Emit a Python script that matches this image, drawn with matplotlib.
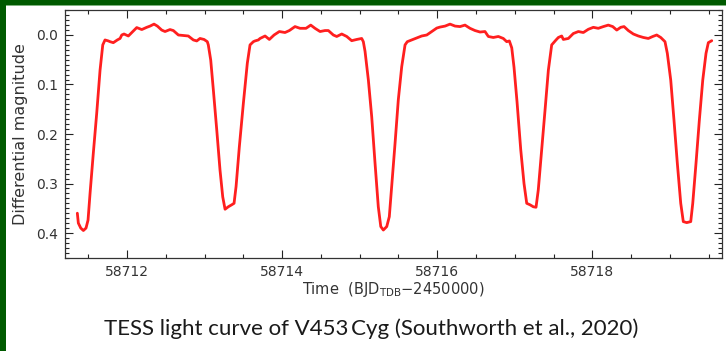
import matplotlib
matplotlib.use("Agg")
import matplotlib.pyplot as plt
from matplotlib.patches import Rectangle
from matplotlib.ticker import MultipleLocator, FixedFormatter

plt.rcParams["font.family"] = ["DejaVu Sans"]
plt.rcParams["mathtext.fontset"] = "dejavusans"

# TESS light curve of V453 Cyg: time (BJD_TDB - 2450000) and differential magnitude
bjd = [
    58711.359, 58711.372, 58711.403, 58711.437, 58711.471, 58711.497, 58711.523,
    58711.565, 58711.609, 58711.652, 58711.687, 58711.716, 58711.759, 58711.781,
    58711.823, 58711.875, 58711.910, 58711.932, 58711.961, 58712.017, 58712.074,
    58712.125, 58712.190, 58712.254, 58712.297, 58712.348, 58712.391, 58712.447,
    58712.490, 58712.554, 58712.597, 58712.662, 58712.726, 58712.790, 58712.855,
    58712.899, 58712.941, 58712.993, 58713.035, 58713.048, 58713.079, 58713.113,
    58713.157, 58713.199, 58713.234, 58713.264, 58713.306, 58713.350, 58713.380,
    58713.406, 58713.448, 58713.500, 58713.551, 58713.586, 58713.629, 58713.650,
    58713.693, 58713.715, 58713.780, 58713.835, 58713.896, 58713.964, 58714.037,
    58714.093, 58714.166, 58714.231, 58714.308, 58714.369, 58714.424, 58714.489,
    58714.553, 58714.596, 58714.660, 58714.704, 58714.769, 58714.833, 58714.897,
    58714.962, 58715.026, 58715.047, 58715.069, 58715.112, 58715.155, 58715.198,
    58715.240, 58715.272, 58715.305, 58715.349, 58715.382, 58715.413, 58715.456,
    58715.498, 58715.542, 58715.585, 58715.614, 58715.671, 58715.736, 58715.800,
    58715.865, 58715.929, 58715.994, 58716.036, 58716.101, 58716.165, 58716.230,
    58716.294, 58716.358, 58716.423, 58716.487, 58716.552, 58716.616, 58716.659,
    58716.723, 58716.788, 58716.852, 58716.896, 58716.930, 58716.961, 58716.990,
    58717.029, 58717.077, 58717.119, 58717.154, 58717.196, 58717.239, 58717.274,
    58717.303, 58717.347, 58717.390, 58717.433, 58717.476, 58717.532, 58717.562,
    58717.605, 58717.626, 58717.691, 58717.755, 58717.820, 58717.884, 58717.948,
    58718.013, 58718.077, 58718.142, 58718.206, 58718.263, 58718.315, 58718.366,
    58718.409, 58718.464, 58718.529, 58718.593, 58718.658, 58718.722, 58718.779,
    58718.830, 58718.882, 58718.937, 58718.967, 58719.011, 58719.053, 58719.096,
    58719.140, 58719.173, 58719.217, 58719.269, 58719.295, 58719.337, 58719.380,
    58719.424, 58719.466, 58719.496, 58719.540,
]
dmag = [
    0.360, 0.380, 0.390, 0.395, 0.390, 0.374, 0.320,
    0.239, 0.158, 0.071, 0.020, 0.010, 0.012, 0.0135,
    0.0155, 0.010, 0.007, 0.000, -0.002, 0.002, -0.007,
    -0.015, -0.011, -0.0155, -0.018, -0.022, -0.018, -0.010,
    -0.007, -0.011, -0.009, 0.000, 0.001, 0.002, 0.010,
    0.012, 0.007, 0.009, 0.0135, 0.020, 0.0505, 0.111,
    0.192, 0.273, 0.327, 0.352, 0.347, 0.343, 0.340,
    0.306, 0.226, 0.138, 0.057, 0.020, 0.0135, 0.012,
    0.010, 0.007, 0.002, 0.009, 0.000, -0.007, -0.005,
    -0.009, -0.017, -0.0135, -0.0135, -0.020, -0.0135, -0.007,
    -0.009, -0.009, 0.000, 0.003, -0.002, 0.003, 0.0115,
    0.009, 0.007, 0.0135, 0.033, 0.091, 0.165, 0.259,
    0.347, 0.387, 0.394, 0.387, 0.367, 0.306, 0.219,
    0.131, 0.064, 0.020, 0.0135, 0.010, 0.006, 0.002,
    0.000, -0.007, -0.014, -0.016, -0.018, -0.022, -0.018,
    -0.017, -0.020, -0.0135, -0.009, -0.006, -0.007, 0.003,
    0.005, 0.003, 0.007, 0.0135, 0.012, 0.026, 0.065,
    0.135, 0.232, 0.300, 0.340, 0.343, 0.347, 0.348,
    0.313, 0.232, 0.152, 0.071, 0.020, 0.010, 0.005,
    0.002, 0.009, 0.007, -0.003, -0.007, -0.005, -0.0115,
    -0.0155, -0.0135, -0.017, -0.020, -0.017, -0.010, -0.0155,
    -0.017, -0.009, -0.002, 0.002, 0.005, 0.007, 0.003,
    0.000, 0.005, 0.0135, 0.037, 0.091, 0.172, 0.259,
    0.340, 0.377, 0.379, 0.377, 0.340, 0.259, 0.172,
    0.091, 0.037, 0.0155, 0.0115,
]

x_major = [58712, 58714, 58716, 58718]
x_labels = ["58712", "58714", "58716", "58718"]
y_major = [0.0, 0.1, 0.2, 0.3, 0.4]
y_labels = ["0.0", "0.1", "0.2", "0.3", "0.4"]

fig = plt.figure(figsize=(7.26, 3.51), dpi=100)
fig.patch.set_facecolor("white")

# slide frame: dark green bands on top and left
fig.patches.append(Rectangle((0, 1 - 5 / 351), 1, 5 / 351, transform=fig.transFigure,
                             facecolor="#005a00", edgecolor="none", zorder=0))
fig.patches.append(Rectangle((0, 1 - 6 / 351), 1, 1 / 351, transform=fig.transFigure,
                             facecolor="#7fb27f", edgecolor="none", zorder=0))
fig.patches.append(Rectangle((0, 0), 6 / 726, 1, transform=fig.transFigure,
                             facecolor="#005a00", edgecolor="none", zorder=0))

ax = fig.add_axes([65 / 726, 1 - 258 / 351, (722.3 - 65) / 726, (258 - 10) / 351])
ax.plot(bjd, dmag, color="#ff1f1f", lw=2.0, solid_capstyle="round", solid_joinstyle="round")

ax.set_xlim(58711.2, 58719.676)
ax.set_ylim(0.4505, -0.0505)
ax.set_xticks(x_major)
ax.set_xticklabels(x_labels)
ax.set_yticks(y_major)
ax.set_yticklabels(y_labels)
ax.xaxis.set_minor_locator(MultipleLocator(0.5))
ax.yaxis.set_minor_locator(MultipleLocator(0.01))
ax.tick_params(which="both", direction="in", top=True, right=True,
               colors="#222222", labelcolor="#333333", labelsize=10, width=0.8)
ax.tick_params(which="major", length=5.5, pad=5)
ax.tick_params(which="minor", length=2.8)
for s in ax.spines.values():
    s.set_color("#333333")
    s.set_linewidth(0.9)

ax.set_xlabel(r"Time  (BJD$_{\mathregular{TDB}}$$-$2450000)", fontsize=10.5,
              color="#333333", labelpad=1)
ax.set_ylabel("Differential magnitude", fontsize=11.5, color="#333333", labelpad=6)

fig.text(0.511, 1 - 329 / 351, "TESS light curve of V453\u2009Cyg (Southworth et al., 2020)",
         ha="center", va="center", fontsize=16, color="#1a1a1a", family="Lato")

fig.savefig("out.png", dpi=100)
